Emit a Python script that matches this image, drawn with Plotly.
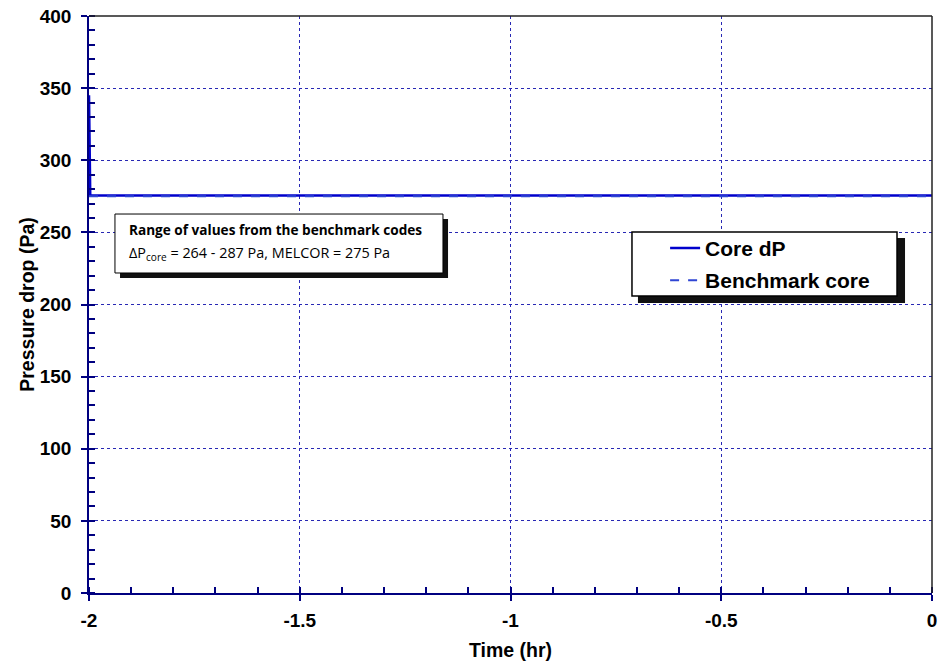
import plotly.graph_objects as go

# Data
time_core = [-2.0, -1.997, -1.0, 0.0]
core_dp = [345, 275.5, 275.5, 275.5]
time_bench = [-2.0, 0.0]
bench_core = [275, 275]

x_ticks = [-2, -1.5, -1, -0.5, 0]
x_tick_labels = ["-2", "-1.5", "-1", "-0.5", "0"]
y_ticks = [0, 50, 100, 150, 200, 250, 300, 350, 400]

BLUE = "#0000cc"
NAVY = "#000080"
GRID = "#2828b4"
FONT = "Liberation Sans"

fig = go.Figure()
fig.add_trace(go.Scatter(x=time_core, y=core_dp, mode="lines", name="Core dP",
                         legendgroup="a", line=dict(color=BLUE, width=2.5)))
fig.add_trace(go.Scatter(x=time_bench, y=bench_core, mode="lines", name="Benchmark core",
                         legendgroup="b", line=dict(color="#2f45d4", width=2, dash="dash")))

fig.update_layout(
    width=942, height=663,
    margin=dict(l=89, r=10, t=16, b=70, autoexpand=False),
    paper_bgcolor="white", plot_bgcolor="white",
    font=dict(family=FONT, color="black"),
    showlegend=True,
    legend=dict(x=0.6834, y=0.633, xanchor="left", yanchor="top",
                bgcolor="rgba(0,0,0,0)", borderwidth=0,
                font=dict(size=21, family=FONT, weight="bold"),
                tracegroupgap=2),
    xaxis=dict(range=[-2, 0], tickvals=x_ticks, ticktext=x_tick_labels,
               showgrid=True, gridcolor=GRID, griddash="dot", gridwidth=1,
               zeroline=False, showline=True, linecolor=NAVY, linewidth=1.5,
               ticks="outside", ticklen=6, tickcolor=NAVY, tickwidth=1.5,
               minor=dict(dtick=0.1, ticks="inside", ticklen=6, tickcolor=NAVY, showgrid=False),
               tickfont=dict(size=19, family=FONT, weight="bold"),
               ticklabelstandoff=3,
               automargin=False,
               title=dict(text="Time (hr)", font=dict(size=19.5, family=FONT, weight="bold"), standoff=14)),
    yaxis=dict(range=[0, 400], tickvals=y_ticks,
               showgrid=True, gridcolor=GRID, griddash="dot", gridwidth=1,
               zeroline=False, showline=True, linecolor=NAVY, linewidth=1.5,
               ticks="outside", ticklen=6, tickcolor=NAVY, tickwidth=1.5,
               minor=dict(dtick=10, ticks="inside", ticklen=6, tickcolor=NAVY, showgrid=False),
               tickfont=dict(size=19, family=FONT, weight="bold"),
               ticklabelstandoff=6,
               automargin=False,
               title=dict(text="Pressure drop (Pa)", font=dict(size=19.5, family=FONT, weight="bold"), standoff=0)),
)

# Frame top/right borders
fig.add_shape(type="line", xref="paper", yref="paper", x0=0, x1=1, y0=1, y1=1,
              line=dict(color="#222222", width=1.5), layer="above")
fig.add_shape(type="line", xref="paper", yref="paper", x0=1, x1=1, y0=0, y1=1,
              line=dict(color="#222222", width=1.5), layer="above")

# Legend box with shadow
fig.add_shape(type="rect", xref="paper", yref="paper",
              x0=0.6512, x1=0.968, y0=0.5026, y1=0.6153,
              fillcolor="#111111", line=dict(width=0), layer="above")
fig.add_shape(type="rect", xref="paper", yref="paper",
              x0=0.6441, x1=0.9585, y0=0.5147, y1=0.6257,
              fillcolor="white", line=dict(color="black", width=1.5), layer="above")

# Annotation box with shadow
fig.add_shape(type="rect", xref="paper", yref="paper",
              x0=0.0368, x1=0.4259, y0=0.5459, y1=0.6482,
              fillcolor="#111111", line=dict(width=0), layer="above")
fig.add_shape(type="rect", xref="paper", yref="paper",
              x0=0.0308, x1=0.4199, y0=0.5546, y1=0.6568,
              fillcolor="white", line=dict(color="black", width=1), layer="above")
fig.add_annotation(xref="paper", yref="paper", x=0.0451, y=0.6308, xanchor="left", yanchor="middle",
                   text="<b>Range of values from the benchmark codes</b>", showarrow=False,
                   font=dict(size=13.6, family="Open Sans", color="black"))
fig.add_annotation(xref="paper", yref="paper", x=0.0451, y=0.589, xanchor="left", yanchor="middle",
                   text="ΔP<sub>core</sub> = 264 - 287 Pa, MELCOR = 275 Pa", showarrow=False,
                   font=dict(size=14.4, family="Open Sans", color="black"))

fig.write_html("out.html", config={"displayModeBar": False})

# Remove default page margin so the figure sits at the window origin
with open("out.html", "r", encoding="utf-8") as f:
    html = f.read()
html = html.replace("<head>", "<head><style>html,body{margin:0;padding:0;}</style>", 1)
with open("out.html", "w", encoding="utf-8") as f:
    f.write(html)
